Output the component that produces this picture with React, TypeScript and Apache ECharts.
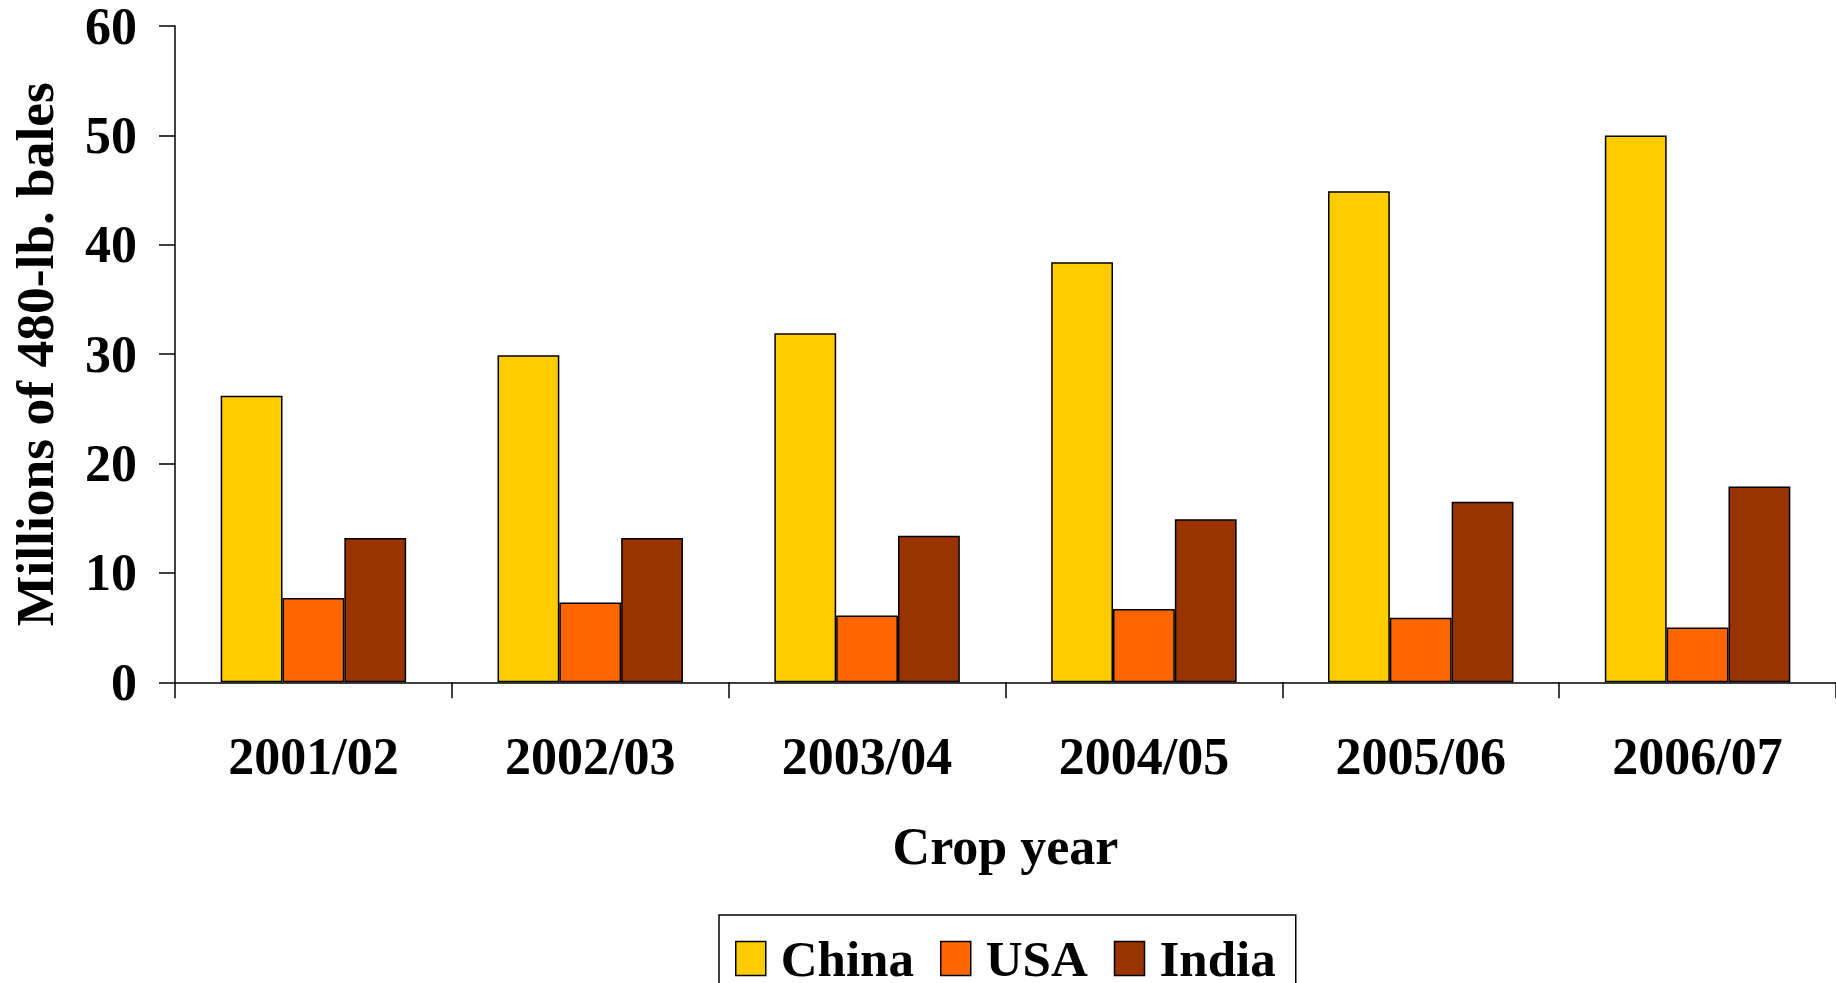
import React, { useEffect, useRef } from "react";
import * as echarts from "echarts";

const categories = ["2001/02", "2002/03", "2003/04", "2004/05", "2005/06", "2006/07"];
const china = [26.2, 29.9, 31.9, 38.4, 44.9, 50.0];
const usa = [7.7, 7.3, 6.1, 6.7, 5.9, 5.0];
const india = [13.2, 13.2, 13.4, 14.9, 16.5, 17.9];
const seriesNames = ["China", "USA", "India"];
const colors = ["#FFCC00", "#FF6600", "#993300"];

const FONT = "'Liberation Serif', 'Times New Roman', serif";

export default function App() {
  const ref = useRef<HTMLDivElement>(null);
  useEffect(() => {
    if (!ref.current) return;
    const chart = echarts.init(ref.current, null, { renderer: "svg" });
    const values = [china, usa, india];
    chart.setOption({
      animation: false,
      backgroundColor: "#ffffff",
      textStyle: { fontFamily: FONT, fontWeight: "bold", color: "#000" },
      grid: { left: 174.5, right: 0, top: 26, height: 656.3 },
      legend: {
        left: 719,
        top: 915,
        orient: "horizontal",
        data: seriesNames,
        icon: "rect",
        itemWidth: 30,
        itemHeight: 34,
        itemGap: 26,
        padding: [18, 20, 30, 16],
        borderColor: "#000",
        borderWidth: 1.5,
        textStyle: {
          fontFamily: FONT,
          fontWeight: "bold",
          fontSize: 51,
          lineHeight: 34,
          color: "#000",
          padding: [0, 0, 0, 10],
        },
        itemStyle: { borderColor: "#000", borderWidth: 1.5 },
      },
      xAxis: {
        type: "category",
        data: categories,
        name: "Crop year",
        nameLocation: "middle",
        nameGap: 138,
        nameTextStyle: { fontFamily: FONT, fontWeight: "bold", fontSize: 52, color: "#000" },
        axisLine: { lineStyle: { color: "#000", width: 1.5 } },
        axisTick: { show: true, length: 16, lineStyle: { color: "#000", width: 1.5 } },
        axisLabel: { fontFamily: FONT, fontWeight: "bold", fontSize: 52, color: "#000", margin: 48 },
      },
      yAxis: {
        type: "value",
        min: 0,
        max: 60,
        interval: 10,
        name: "Millions of 480-lb. bales",
        nameLocation: "middle",
        nameGap: 113,
        nameRotate: 90,
        nameTextStyle: { fontFamily: FONT, fontWeight: "bold", fontSize: 53.5, color: "#000" },
        axisLine: { show: true, lineStyle: { color: "#000", width: 1.5 } },
        axisTick: { show: true, length: 16, lineStyle: { color: "#000", width: 1.5 } },
        splitLine: { show: false },
        axisLabel: {
          fontFamily: FONT,
          fontWeight: "bold",
          fontSize: 52,
          lineHeight: 40,
          color: "#000",
          margin: 38,
        },
      },
      series: seriesNames.map((name, i) => ({
        name,
        type: "bar",
        data: values[i],
        barGap: "0%",
        barCategoryGap: "33%",
        itemStyle: { color: colors[i], borderColor: "#000", borderWidth: 1.5 },
      })),
    });
    return () => chart.dispose();
  }, []);
  return (
    <div
      ref={ref}
      style={{ position: "fixed", left: 0, top: 0, width: 1836, height: 1010 }}
    />
  );
}
